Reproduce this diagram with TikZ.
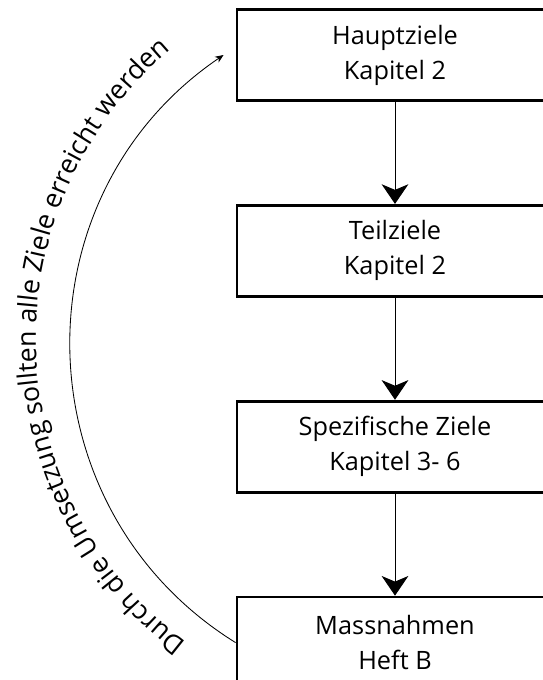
\documentclass[tikz,border=0pt]{standalone}
\usepackage{fontspec}
\setmainfont{Open Sans}
\usetikzlibrary{positioning, arrows.meta, decorations.text}

\begin{document}
\begin{tikzpicture}[
			x=0.025cm, y=0.025cm,
			node distance=2.55cm,
			ebene/.style={rectangle, draw, line width=2pt, minimum width=7.9cm, minimum height=2.275cm, inner sep=0pt, align=center, font=\fontsize{18}{24.8}\selectfont},
			pfeil/.style={-{Stealth[length=14pt, width=19pt, inset=4pt]}, line width=0.7pt}
			]
			\useasboundingbox (0,0) rectangle (542,680);
			
			\node[ebene] (haupt) at (395,625) {Hauptziele\\Kapitel 2};
			\node[ebene, below=of haupt] (teil) {Teilziele\\Kapitel 2};
			\node[ebene, below=of teil] (spez) {Spezifische Ziele\\Kapitel 3- 6};
			\node[ebene, below=of spez] (mass) {Massnahmen\\Heft B};
			
			\draw[pfeil] (haupt) -- (teil);
			\draw[pfeil] (teil) -- (spez);
			\draw[pfeil] (spez) -- (mass);
			
			% Rueckbezug auf die Hauptziele
			\draw[-{Stealth[length=6pt, width=5pt]}, line width=0.6pt]
				(mass.west) to[bend left=57, looseness=1.1] ([xshift=-0.3cm]haupt.west);
			\coordinate (mitte) at (416,340);
			\path[decorate, decoration={text along path, text align=center,
					text={|\fontsize{19}{20}\selectfont|Durch die Umsetzung sollten alle Ziele erreicht werden}}]
				(mitte) ++(236:380) arc[start angle=236, end angle=127, radius=380];
		\end{tikzpicture}
\end{document}
